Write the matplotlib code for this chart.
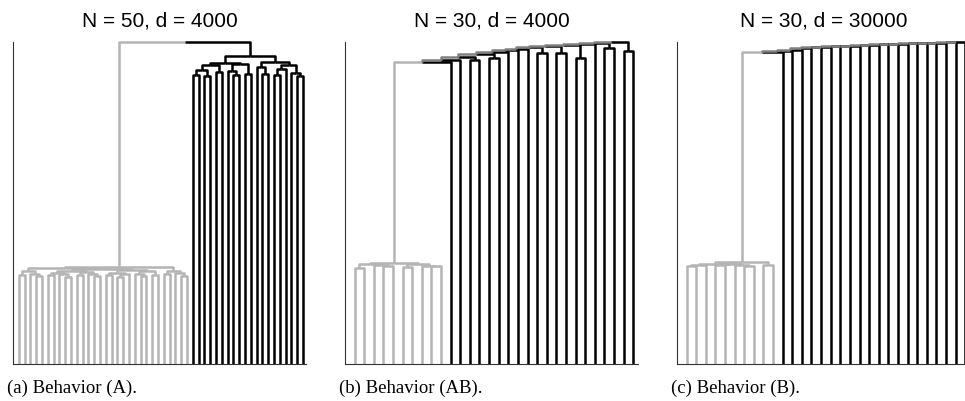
import matplotlib
matplotlib.use("Agg")
import matplotlib.pyplot as plt

# colours of the two clusters and of links that join both
GRAY = "#b4b4b4"
BLACK = "black"
MIXED = "#808080"
LW = 1.8

titles = ["N = 50, d = 4000", "N = 30, d = 4000", "N = 30, d = 30000"]
captions = ["(a) Behavior (A).", "(b) Behavior (AB).", "(c) Behavior (B)."]

# trees: (height, left, right), 0 = leaf. heights scaled so the root is 1
# (a) N = 50
a_root = 1.0
a_gray = (0.301,
          (0.297,
           (0.288, (0.276, 0, 0), (0.280, 0, (0.272, 0, 0))),
           (0.295,
            (0.290, (0.284, (0.275, 0, 0), (0.278, 0, (0.270, 0, 0))),
                    (0.286, (0.276, 0, 0), (0.281, 0, (0.272, 0, 0)))),
            (0.292, (0.283, (0.277, 0, 0), (0.279, (0.271, 0, 0), 0)),
                    (0.288, (0.280, 0, (0.273, 0, 0)), (0.276, 0, 0))))),
          (0.289, (0.279, 0, 0), (0.283, 0, (0.274, 0, 0))))
a_black = (0.955,
           (0.935,
            (0.928, (0.912, (0.899, 0, 0), (0.893, 0, 0)), (0.906, 0, 0)),
            (0.933, (0.909, 0, (0.896, 0, 0)), (0.901, 0, 0))),
           (0.938,
            (0.922, 0, (0.900, 0, 0)),
            (0.930, (0.915, (0.897, 0, 0), 0), (0.904, 0, (0.894, 0, 0)))))

# (b) N = 30: gray cluster, then black leaves / pairs chained on one by one
b_gray = (0.314,
          (0.311, (0.298, 0, 0), (0.309, 0, (0.305, 0, 0))),
          (0.312, (0.300, 0, 0), (0.304, 0, (0.303, 0, 0))))
b_chain_heights = [0.938, 0.944, 0.953, 0.963, 0.969, 0.974, 0.977,
                   0.984, 0.989, 0.992, 0.994, 0.997, 1.0]
b_pair_heights = [None, None, 0.944, 0.950, None, None, None,
                  0.966, 0.966, 0.950, None, 0.981, 0.972]

# (c) N = 30, d = 30000
c_gray = (0.316,
          (0.311, (0.307, (0.305, 0, 0), 0),
                  (0.310, (0.306, 0, 0), (0.308, 0, (0.304, 0, 0)))),
          (0.309, 0, 0))
c_chain_heights = [0.969, 0.973, 0.976, 0.980, 0.983, 0.985, 0.987, 0.988,
                   0.989, 0.991, 0.992, 0.993, 0.994, 0.995, 0.996, 0.997,
                   0.998, 0.998, 0.999, 1.0]

COL = {"g": GRAY, "k": BLACK, "m": MIXED}


def paint(t, c):
    if t == 0:
        return c
    h, l, r = t
    return (h, paint(l, c), paint(r, c))


def chain(base, heights, pairs):
    t = base
    for h, p in zip(heights, pairs):
        elem = "k" if p is None else (p, "k", "k")
        t = (h, t, elem)
    return t


def count(t):
    return 1 if isinstance(t, str) else count(t[1]) + count(t[2])


def draw(ax, t, pos):
    # returns x, height and colour of the subtree
    if isinstance(t, str):
        x = pos[0]
        pos[0] += 1
        return x, 0.0, t
    h, l, r = t
    xl, hl, cl = draw(ax, l, pos)
    xr, hr, cr = draw(ax, r, pos)
    x = (xl + xr) / 2
    ax.plot([xl, xl, x], [hl, h, h], color=COL[cl], lw=LW,
            solid_capstyle="butt", clip_on=False)
    ax.plot([x, xr, xr], [h, h, hr], color=COL[cr], lw=LW,
            solid_capstyle="butt", clip_on=False)
    return x, h, (cl if cl == cr else "m")


tree_a = (a_root, paint(a_gray, "g"), paint(a_black, "k"))
tree_b = chain(paint(b_gray, "g"), b_chain_heights, b_pair_heights)
tree_c = chain(paint(c_gray, "g"), c_chain_heights, [None] * len(c_chain_heights))
trees = [tree_a, tree_b, tree_c]

W, H = 965, 401
fig = plt.figure(figsize=(W / 100, H / 100), dpi=100)
lefts = [13, 345, 677]

for i, tree in enumerate(trees):
    ax = fig.add_axes([lefts[i] / W, 1 - 364 / H, 293 / W, 322 / H])
    n = count(tree)
    draw(ax, tree, [0])
    ax.set_xlim(-1, n - 0.5)
    ax.set_ylim(0, 1.0)
    ax.set_xticks([])
    ax.set_yticks([])
    for s in ["top", "right"]:
        ax.spines[s].set_visible(False)
    for s in ["left", "bottom"]:
        ax.spines[s].set_linewidth(0.8)
        ax.spines[s].set_color("#333333")
    ax.set_title(titles[i], fontsize=15, family="Liberation Sans", pad=11)
    ax.annotate(captions[i], xy=(0, 0), xycoords="axes fraction",
                xytext=(-4.5, -21), textcoords="offset points",
                ha="left", va="baseline", fontsize=13.5, family="Liberation Serif")

fig.savefig("out.png", dpi=100)
